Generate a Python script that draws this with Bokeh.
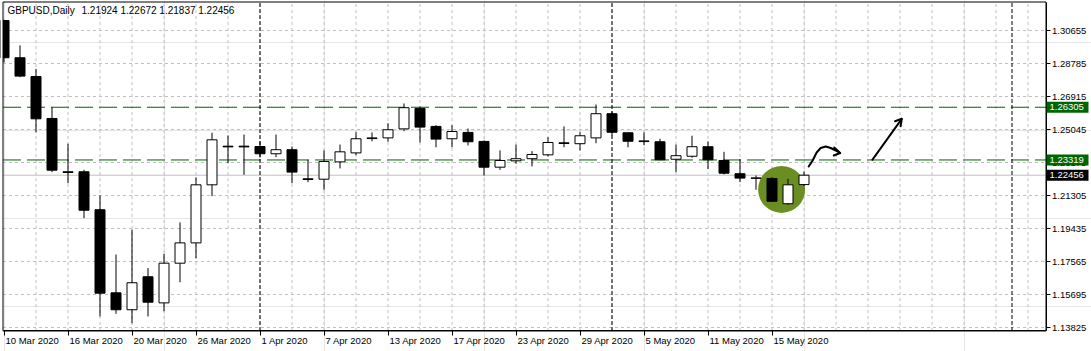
from bokeh.plotting import figure
from bokeh.models import (Range1d, FixedTicker, Label, LinearAxis,
                          ColumnDataSource, PrintfTickFormatter)
from bokeh.core.properties import value
from bokeh.embed import file_html
from bokeh.resources import INLINE

# ---------------- data ----------------
symbol_text = "GBPUSD,Daily"
last_ohlc_text = "1.21924 1.22672 1.21837 1.22456"

opens = [1.3122, 1.2911, 1.2805, 1.2567, 1.2265, 1.2265, 1.2050, 1.1579, 1.1483, 1.1670,
         1.1522, 1.1747, 1.1862, 1.2191, 1.2410, 1.2410, 1.2408, 1.2367, 1.2390, 1.2225,
         1.2223, 1.2321, 1.2372, 1.2453, 1.2457, 1.2508, 1.2624, 1.2522, 1.2452, 1.2488,
         1.2437, 1.2291, 1.2327, 1.2339, 1.2361, 1.2429, 1.2424, 1.2457, 1.2594, 1.2486,
         1.2440, 1.2435, 1.2336, 1.2353, 1.2407, 1.2329, 1.2254, 1.2230, 1.2227, 1.2084,
         1.21924]
highs = [1.3126, 1.2981, 1.2848, 1.2631, 1.2424, 1.2276, 1.2131, 1.1796, 1.1938, 1.1719,
         1.1800, 1.1978, 1.2233, 1.2486, 1.2471, 1.2476, 1.2437, 1.2476, 1.2408, 1.2333,
         1.2386, 1.2419, 1.2489, 1.2488, 1.2540, 1.2652, 1.2635, 1.2529, 1.2529, 1.2510,
         1.2442, 1.2386, 1.2419, 1.2382, 1.2461, 1.2522, 1.2489, 1.2646, 1.2607, 1.2486,
         1.2488, 1.2452, 1.2419, 1.2469, 1.2437, 1.2378, 1.2336, 1.2244, 1.2234, 1.2225,
         1.22672]
lows = [1.2884, 1.2801, 1.2489, 1.2263, 1.2200, 1.2002, 1.1445, 1.1460, 1.1407, 1.1445,
        1.1475, 1.1639, 1.1775, 1.2127, 1.2314, 1.2248, 1.2346, 1.2348, 1.2200, 1.2206,
        1.2163, 1.2284, 1.2359, 1.2438, 1.2435, 1.2495, 1.2431, 1.2404, 1.2404, 1.2414,
        1.2244, 1.2276, 1.2310, 1.2295, 1.2352, 1.2404, 1.2386, 1.2427, 1.2470, 1.2404,
        1.2416, 1.2330, 1.2263, 1.2344, 1.2280, 1.2250, 1.2206, 1.2163, 1.2093, 1.2078,
        1.21837]
closes = [1.2911, 1.2807, 1.2565, 1.2274, 1.2261, 1.2047, 1.1577, 1.1483, 1.1636, 1.1526,
          1.1747, 1.1862, 1.2191, 1.2446, 1.2406, 1.2406, 1.2367, 1.2390, 1.2263, 1.2221,
          1.2323, 1.2378, 1.2452, 1.2457, 1.2503, 1.2628, 1.2518, 1.2450, 1.2493, 1.2435,
          1.2291, 1.2329, 1.2339, 1.2363, 1.2431, 1.2425, 1.2469, 1.2594, 1.2489, 1.2438,
          1.2436, 1.2333, 1.2356, 1.2407, 1.2333, 1.2257, 1.2229, 1.2228, 1.2098, 1.2191,
          1.22456]

date_tick_bars = [0, 4, 8, 12, 16, 20, 24, 28, 32, 36, 40, 44, 48]
date_tick_labels = ["10 Mar 2020", "16 Mar 2020", "20 Mar 2020", "26 Mar 2020",
                    "1 Apr 2020", "7 Apr 2020", "13 Apr 2020", "17 Apr 2020",
                    "23 Apr 2020", "29 Apr 2020", "5 May 2020", "11 May 2020",
                    "15 May 2020"]
price_ticks = [1.13825, 1.15695, 1.17565, 1.19435, 1.21305, 1.23175,
               1.25045, 1.26915, 1.28785, 1.30655]

resistance_level = 1.26305
support_level = 1.23319
bid_level = 1.22456
level_values = [resistance_level, support_level, bid_level]
level_texts = ["1.26305", "1.23319", "1.22456"]
level_colors = ["#006400", "#006400", "black"]
separator_bars = [16, 38, 63]

# annotation: highlight circle (bar, price) and hand-drawn arrows
highlight_bar, highlight_price = 48.6, 1.2165
curve_arrow_x = [50.29, 50.54, 50.79, 51.04, 51.36, 51.67, 51.98, 52.26]
curve_arrow_y = [1.22948, 1.23288, 1.23742, 1.23997, 1.24082, 1.23997, 1.23855, 1.23713]
curve_head_x = [51.89, 52.26, 51.86]
curve_head_y = [1.24025, 1.23713, 1.23572]
straight_arrow_x = [54.27, 56.11]
straight_arrow_y = [1.23328, 1.25651]
straight_head_x = [55.69, 56.11, 56.04]
straight_head_y = [1.25515, 1.25651, 1.25232]

# ---------------- layout constants ----------------
FONT = "Liberation Sans"
FSIZE = "9.5px"
HEADER_FSIZE = "10px"
GREEN = "#006400"
GRID = "#c0c0c0"

BAR_PX = 16.0
PRICE_PER_PX = 0.0187 / 33
# the price area inside the canvas (bar units / price units)
AREA_X0, AREA_X1 = -0.0625, 65.125
AREA_Y0, AREA_Y1 = 1.136267, 1.322700
DATE_LABEL_Y = AREA_Y0 - 9.5 * PRICE_PER_PX
BOX_X0 = AREA_X1 + 0.5 / BAR_PX
BOX_X1 = AREA_X1 + 42.5 / BAR_PX
BOX_TEXT_X = AREA_X1 + 3.5 / BAR_PX
BOX_HALF_H = 5.5 * PRICE_PER_PX

p = figure(width=1091, height=351,
           x_range=Range1d(-0.21875, 67.96875),
           y_range=Range1d(1.124650, 1.323550),
           output_backend="svg", toolbar_location=None,
           x_axis_location=None, y_axis_location=None,
           min_border=0, min_border_left=0, min_border_right=0,
           min_border_top=0, min_border_bottom=0,
           background_fill_color="white", border_fill_color="white",
           outline_line_color=None)

# grid (dotted light gray) inside the price area
grid_bars = list(range(2, 66, 2))
p.segment(x0=[AREA_X0] * len(price_ticks), x1=[AREA_X1] * len(price_ticks),
          y0=price_ticks, y1=price_ticks, line_color=GRID, line_width=1, line_dash="3 3")
p.segment(x0=grid_bars, x1=grid_bars, y0=[AREA_Y0] * len(grid_bars),
          y1=[AREA_Y1] * len(grid_bars), line_color=GRID, line_width=1, line_dash="3 3")

# bid line, support / resistance, period separators
p.segment(x0=[AREA_X0], x1=[AREA_X1], y0=[bid_level], y1=[bid_level],
          line_color=GRID, line_width=1)
lv = [resistance_level, support_level]
p.segment(x0=[AREA_X0] * 2, x1=[AREA_X1] * 2, y0=lv, y1=lv,
          line_color=GREEN, line_width=1, line_dash="18 6")
p.segment(x0=separator_bars, x1=separator_bars, y0=[AREA_Y0] * len(separator_bars),
          y1=[AREA_Y1] * len(separator_bars), line_color="black", line_width=1,
          line_dash="4 2")

# highlight circle
p.scatter(x=[highlight_bar], y=[highlight_price], size=47, marker="circle",
          fill_color="#6b8e23", line_color=None)

# candles
bars = list(range(len(opens)))
tops = [max(o, c) for o, c in zip(opens, closes)]
bottoms = [min(o, c) for o, c in zip(opens, closes)]
fills = ["white" if c > o else "black" for o, c in zip(opens, closes)]
src = ColumnDataSource(dict(x=bars, o=opens, h=highs, l=lows, c=closes,
                            top=tops, bottom=bottoms, fill=fills))
p.segment(x0="x", y0="l", x1="x", y1="h", source=src, line_color="black", line_width=1)
p.vbar(x="x", width=0.625, top="top", bottom="bottom", source=src,
       fill_color="fill", line_color="black", line_width=1)

# mask outside the left edge of the price area, then the price area border
p.quad(left=[-0.21875], right=[AREA_X0], bottom=[AREA_Y0], top=[AREA_Y1],
       fill_color="white", line_color=None)
p.quad(left=[AREA_X0], right=[AREA_X1], bottom=[AREA_Y0], top=[AREA_Y1],
       fill_color=None, line_color="black", line_width=1)

# hand-drawn arrows
for xs, ys in ((curve_arrow_x, curve_arrow_y), (curve_head_x, curve_head_y),
               (straight_arrow_x, straight_arrow_y), (straight_head_x, straight_head_y)):
    p.line(xs, ys, line_color="black", line_width=2, line_cap="round", line_join="round")

# right price axis, pinned to the price area's right edge
yax = LinearAxis(fixed_location=AREA_X1, bounds=(AREA_Y0, AREA_Y1),
                 ticker=FixedTicker(ticks=price_ticks),
                 formatter=PrintfTickFormatter(format="%.5f"))
yax.major_tick_out = 4
yax.major_tick_in = 0
yax.minor_tick_line_color = None
yax.major_label_standoff = 2
yax.major_label_text_font = FONT
yax.major_label_text_font_size = FSIZE
yax.major_label_text_color = "black"
yax.axis_line_color = "black"
yax.major_tick_line_color = "black"
p.add_layout(yax, "right")

# bottom time axis (ticks), pinned to the price area's bottom edge
xax = LinearAxis(fixed_location=AREA_Y0, bounds=(AREA_X0, AREA_X1),
                 ticker=FixedTicker(ticks=date_tick_bars))
xax.major_label_overrides = {b: "" for b in date_tick_bars}
xax.major_tick_out = 5
xax.major_tick_in = 0
xax.minor_tick_line_color = None
xax.axis_line_color = "black"
xax.major_tick_line_color = "black"
p.add_layout(xax, "below")

# date labels, left-aligned at their ticks
p.text(x=date_tick_bars, y=[DATE_LABEL_Y] * len(date_tick_bars), text=date_tick_labels,
       x_offset=1.5, text_align="left", text_baseline="middle",
       text_font=value(FONT), text_font_size=value(FSIZE), text_color="black")

# price boxes on the scale (drawn over the axis labels)
n_lv = len(level_values)
p.quad(left=[BOX_X0] * n_lv, right=[BOX_X1] * n_lv,
       bottom=[v - BOX_HALF_H for v in level_values],
       top=[v + BOX_HALF_H for v in level_values],
       fill_color=level_colors, line_color=None, level="overlay")
p.text(x=[BOX_TEXT_X] * n_lv, y=level_values, text=level_texts,
       text_align="left", text_baseline="middle", text_font=value(FONT),
       text_font_size=value(FSIZE), text_color="white", level="overlay")

# header
p.add_layout(Label(x=7, y=341, x_units="screen", y_units="screen", text=symbol_text,
                   text_font=FONT, text_font_size=HEADER_FSIZE, text_color="black",
                   text_baseline="middle", text_align="left"))
p.add_layout(Label(x=81, y=341, x_units="screen", y_units="screen", text=last_ohlc_text,
                   text_font=FONT, text_font_size=HEADER_FSIZE, text_color="black",
                   text_baseline="middle", text_align="left"))

open("out.html", "w").write(file_html(p, INLINE))
